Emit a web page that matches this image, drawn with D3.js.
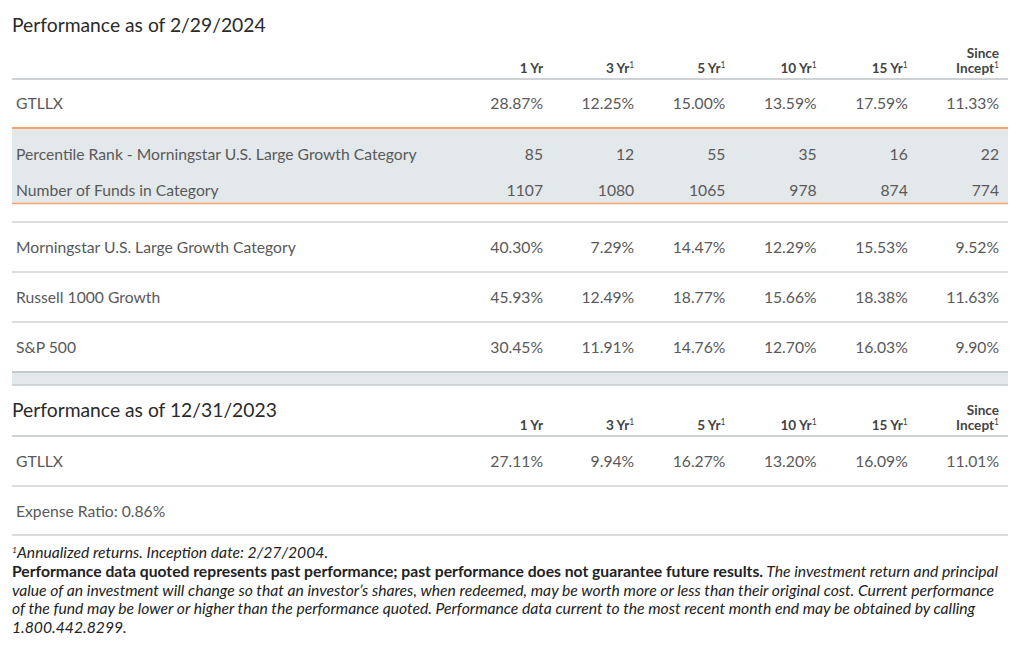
<!DOCTYPE html>
<html><head><meta charset="utf-8">
<script src="https://cdn.jsdelivr.net/npm/d3@7"></script>
<style>
html,body{margin:0;padding:0;background:#fff;}
svg{display:block;font-family:Lato,"Open Sans",sans-serif;}
</style></head>
<body>
<svg id="c" width="1024" height="661"></svg>
<script>
// ---- data ----
const columns = ["1 Yr", "3 Yr", "5 Yr", "10 Yr", "15 Yr", "Since Incept"];
const columnSup = [false, true, true, true, true, true];
const gtllxFeb = [28.87, 12.25, 15.00, 13.59, 17.59, 11.33];
const percentileRank = [85, 12, 55, 35, 16, 22];
const numberOfFunds = [1107, 1080, 1065, 978, 874, 774];
const morningstarCategory = [40.30, 7.29, 14.47, 12.29, 15.53, 9.52];
const russell1000Growth = [45.93, 12.49, 18.77, 15.66, 18.38, 11.63];
const sp500 = [30.45, 11.91, 14.76, 12.70, 16.03, 9.90];
const gtllxDec = [27.11, 9.94, 16.27, 13.20, 16.09, 11.01];
const title1 = "Performance as of 2/29/2024";
const title2 = "Performance as of 12/31/2023";
const expenseRatio = "Expense Ratio: 0.86%";

const svg = d3.select("#c");
const L = 12, R = 1008;
const x = d3.scalePoint().domain(columns).range([543, 999]);
const pct = d3.format(".2f");
const fmtPct = v => pct(v) + "%";
const fmtInt = v => String(v);

const cText = "#595959", cHead = "#444", cTitle = "#2a2a2a";
const cLine = "#cfd2d4", cOrange = "#f8a36a", cBand = "#e3e8eb";
const fsBody = 15.7, fsTitle = 19.3, fsHead = 13.6, fsFoot = 15.7;

function hline(y, color, w) {
  svg.append("line").attr("x1", L).attr("x2", R).attr("y1", y).attr("y2", y)
    .attr("stroke", color).attr("stroke-width", w);
}
function title(t, y) {
  svg.append("text").attr("x", 12).attr("y", y).attr("font-size", fsTitle)
    .attr("fill", cTitle).text(t);
}
function header(yBase) {
  const g = svg.append("g").attr("font-weight", 700).attr("font-size", fsHead)
    .attr("fill", cHead).attr("text-anchor", "end");
  columns.forEach((c, i) => {
    const parts = c === "Since Incept" ? ["Since", "Incept"] : [c];
    parts.forEach((p, j) => {
      const last = j === parts.length - 1;
      const t = g.append("text").attr("x", x(c))
        .attr("y", yBase - (parts.length - 1 - j) * 15.5);
      t.append("tspan").text(p);
      if (columnSup[i] && last)
        t.append("tspan").attr("font-size", 8.5).attr("font-weight", 400).attr("dy", -5.5).text("1");
    });
  });
}
function row(label, vals, fmt, y) {
  svg.append("text").attr("x", 16).attr("y", y).attr("font-size", fsBody)
    .attr("fill", cText).text(label);
  svg.append("g").selectAll("text").data(vals).join("text")
    .attr("x", (d, i) => x(columns[i])).attr("y", y)
    .attr("text-anchor", "end").attr("font-size", fsBody).attr("fill", cText)
    .text(fmt);
}

// ---- first table ----
title(title1, 32);
header(73);
hline(79, cLine, 2);
row("GTLLX", gtllxFeb, fmtPct, 109);
svg.append("rect").attr("x", L).attr("y", 128).attr("width", R - L).attr("height", 75).attr("fill", cBand);
hline(128, cOrange, 2);
hline(203.5, cOrange, 1.5);
row("Percentile Rank - Morningstar U.S. Large Growth Category", percentileRank, fmtInt, 160);
row("Number of Funds in Category", numberOfFunds, fmtInt, 196);
hline(222, cLine, 1.5);
row("Morningstar U.S. Large Growth Category", morningstarCategory, fmtPct, 253);
hline(272, cLine, 1.5);
row("Russell 1000 Growth", russell1000Growth, fmtPct, 303);
hline(322, cLine, 1.5);
row("S&P 500", sp500, fmtPct, 353);
svg.append("rect").attr("x", L).attr("y", 372).attr("width", R - L).attr("height", 13).attr("fill", cBand);
hline(372, "#c6cacc", 2);
hline(385, "#c6cacc", 1.5);

// ---- second table ----
title(title2, 417);
header(430);
hline(436, cLine, 2);
row("GTLLX", gtllxDec, fmtPct, 467);
hline(486, cLine, 1.5);
svg.append("text").attr("x", 16).attr("y", 517).attr("font-size", fsBody).attr("fill", cText).text(expenseRatio);
hline(535, cLine, 1.5);

// ---- footnotes ----
const fn = svg.append("g").attr("font-size", fsFoot).attr("fill", "#222");
const f1 = fn.append("text").attr("x", 12).attr("y", 558).attr("font-style", "italic");
f1.append("tspan").attr("font-size", 8.5).attr("dy", -5.5).text("1");
f1.append("tspan").attr("dy", 5.5).text("Annualized returns. Inception date: 2/27/2004.");
const f2 = fn.append("text").attr("x", 12).attr("y", 577);
f2.append("tspan").attr("font-weight", 700).text("Performance data quoted represents past performance; past performance does not guarantee future results.");
f2.append("tspan").attr("font-style", "italic").text(" The investment return and principal");
const rest = [
  "value of an investment will change so that an investor\u2019s shares, when redeemed, may be worth more or less than their original cost. Current performance",
  "of the fund may be lower or higher than the performance quoted. Performance data current to the most recent month end may be obtained by calling",
  "1.800.442.8299."
];
rest.forEach((t, i) => {
  fn.append("text").attr("x", 12).attr("y", 595.5 + i * 18.5).attr("font-style", "italic").text(t);
});
</script>
</body></html>
